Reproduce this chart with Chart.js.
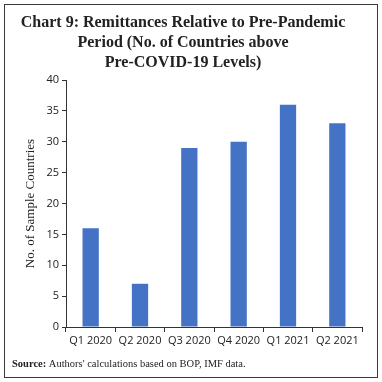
<!DOCTYPE html>
<html><head><meta charset="utf-8">
<script src="https://cdn.jsdelivr.net/npm/chart.js@4"></script>
<style>html,body{margin:0;padding:0;background:#fff}#wrap{width:382px;height:382px;position:relative}</style>
</head><body><div id="wrap"><canvas id="c" width="382" height="382"></canvas></div>
<script>
const categories = ["Q1 2020","Q2 2020","Q3 2020","Q4 2020","Q1 2021","Q2 2021"];
const countries = [16, 7, 29, 30, 36, 33];
const titleLines = ["Chart 9: Remittances Relative to Pre-Pandemic","Period (No. of Countries above","Pre-COVID-19 Levels)"];
const yTitle = "No. of Sample Countries";
const sourceBold = "Source:";
const sourceText = " Authors' calculations based on BOP, IMF data.";

const frame = {
  id: 'frame',
  afterDraw(chart) {
    const ctx = chart.ctx;
    ctx.save();
    ctx.strokeStyle = '#3a3a3a';
    ctx.lineWidth = 1;
    ctx.strokeRect(4.5, 4.5, 373, 373);
    ctx.fillStyle = '#222';
    ctx.textBaseline = 'middle';
    ctx.font = 'bold 10.5px "Liberation Serif", serif';
    ctx.fillText(sourceBold, 12, 364);
    const w = ctx.measureText(sourceBold).width;
    ctx.font = '10.5px "Liberation Serif", serif';
    ctx.fillText(sourceText, 12 + w, 364);
    ctx.restore();
  }
};

Chart.defaults.animation = false;
new Chart(document.getElementById('c'), {
  type: 'bar',
  data: { labels: categories, datasets: [{ data: countries, backgroundColor: '#4472C4', categoryPercentage: 1, barPercentage: 0.33 }] },
  options: {
    responsive: false,
    devicePixelRatio: 1,
    layout: { padding: { left: 4, right: 20, top: 0, bottom: 28 } },
    plugins: {
      legend: { display: false },
      tooltip: { enabled: false },
      title: { display: true, text: titleLines, color: '#222', font: { family: '"Liberation Serif", serif', size: 16, weight: 'bold', lineHeight: 1.25 }, padding: { top: 13, bottom: 7 } }
    },
    scales: {
      x: {
        offset: true,
        grid: { offset: true, drawOnChartArea: false, drawTicks: true, tickLength: 5, color: '#333' },
        border: { color: '#333' },
        ticks: { color: '#222', font: { family: '"Open Sans", sans-serif', size: 11 }, padding: 2, maxRotation: 0 },
        afterFit(s) { s.height = 27; }
      },
      y: {
        min: 0, max: 40,
        ticks: { stepSize: 5, color: '#222', font: { family: '"Open Sans", sans-serif', size: 11 }, padding: 3 },
        grid: { drawOnChartArea: false, drawTicks: true, tickLength: 4, color: '#333' },
        border: { color: '#333' },
        title: { display: true, text: yTitle, color: '#222', font: { family: '"Liberation Serif", serif', size: 13 }, padding: { top: 19, bottom: 4 } },
        afterFit(s) { s.width = 62; }
      }
    }
  },
  plugins: [frame]
});
</script></body></html>
